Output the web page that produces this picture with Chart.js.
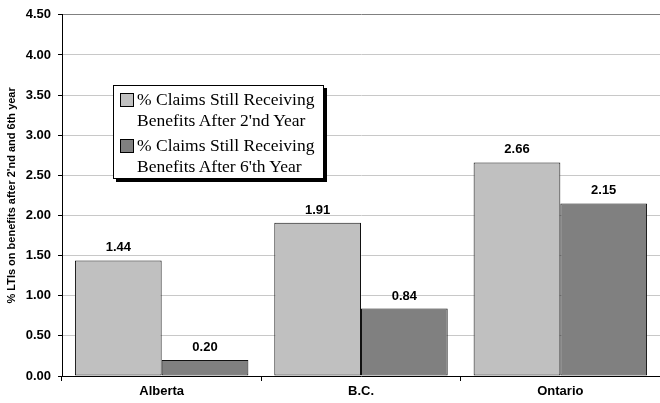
<!DOCTYPE html>
<html>
<head>
<meta charset="utf-8">
<script src="https://cdn.jsdelivr.net/npm/chart.js@4.4.1/dist/chart.umd.min.js"></script>
<style>
  html, body { margin: 0; padding: 0; background: #fff; }
  #wrap { position: relative; width: 660px; height: 403px; }
  #legend {
    position: absolute; left: 113px; top: 85px;
    background: #fff; border: 1px solid #000;
    box-shadow: 3px 3px 0 #000;
    font-family: "Liberation Serif", "Times New Roman", serif;
    font-size: 17.5px; line-height: 21px; color: #000;
    padding: 3px 2px 1px 6px;
  }
  .item { display: flex; align-items: flex-start; margin: 0; }
  .item + .item { margin-top: 4px; }
  .sw { width: 12px; height: 12px; border: 1px solid #000; margin: 4px 3px 0 0; flex: none; }
  .txt { width: 184px; }
</style>
</head>
<body>
<div id="wrap">
  <canvas id="c" width="660" height="403"></canvas>
  <div id="legend"></div>
</div>
<script>
// Provinces and the two claim-duration series
const categories = ['Alberta', 'B.C.', 'Ontario'];
const seriesNames = [
  "% Claims Still Receiving Benefits After 2'nd Year",
  "% Claims Still Receiving Benefits After 6'th Year"
];
const after2ndYear = [1.44, 1.91, 2.66];
const after6thYear = [0.20, 0.84, 2.15];
const seriesColors = ['#C0C0C0', '#808080'];
const yTitle = "% LTIs on benefits after 2'nd and 6th year";

const FONT = '"Liberation Sans", Arial, sans-serif';

// Value labels drawn above each bar
const valueLabels = {
  id: 'valueLabels',
  afterDatasetsDraw(chart) {
    const ctx = chart.ctx;
    ctx.save();
    ctx.font = 'bold 13px ' + FONT;
    ctx.fillStyle = '#000';
    ctx.textAlign = 'center';
    ctx.textBaseline = 'alphabetic';
    chart.data.datasets.forEach((ds, i) => {
      chart.getDatasetMeta(i).data.forEach((bar, j) => {
        ctx.fillText(ds.data[j].toFixed(2), bar.x, bar.y - 9);
      });
    });
    ctx.restore();
  }
};

const chart = new Chart(document.getElementById('c'), {
  type: 'bar',
  data: {
    labels: categories,
    datasets: [
      { label: seriesNames[0], data: after2ndYear, backgroundColor: seriesColors[0],
        borderColor: '#111', borderWidth: 1, borderSkipped: false },
      { label: seriesNames[1], data: after6thYear, backgroundColor: seriesColors[1],
        borderColor: '#111', borderWidth: 1, borderSkipped: false }
    ]
  },
  options: {
    responsive: false,
    animation: false,
    devicePixelRatio: 1,
    layout: { padding: { top: 14, right: 0, left: 0, bottom: 0 } },
    datasets: { bar: { categoryPercentage: 0.87, barPercentage: 1.0 } },
    plugins: { legend: { display: false }, tooltip: { enabled: false } },
    scales: {
      x: {
        grid: { drawOnChartArea: false, drawTicks: true, tickLength: 5, tickColor: '#000', offset: true },
        border: { color: '#000', width: 1 },
        ticks: { color: '#000', font: { family: FONT, size: 13, weight: 'bold' }, padding: 3 },
        afterFit(s) { s.height = 27; }
      },
      y: {
        min: 0, max: 4.5,
        ticks: {
          stepSize: 0.5, color: '#000', padding: 7,
          font: { family: FONT, size: 13, weight: 'bold' },
          callback: v => v.toFixed(2)
        },
        grid: {
          color: ctx => (ctx.tick && ctx.tick.value === 4.5) ? '#808080' : '#c8c8c8',
          tickColor: '#000', tickLength: 4
        },
        border: { color: '#000', width: 1 },
        title: {
          display: true, text: yTitle, color: '#000', padding: { top: 5, bottom: 0 },
          font: { family: FONT, size: 11, weight: 'bold' }
        },
        afterFit(s) { s.width = 62; }
      }
    }
  },
  plugins: [valueLabels]
});

// HTML legend built from the dataset names and colours
const legend = document.getElementById('legend');
chart.data.datasets.forEach(ds => {
  const item = document.createElement('div');
  item.className = 'item';
  const sw = document.createElement('div');
  sw.className = 'sw';
  sw.style.background = ds.backgroundColor;
  const txt = document.createElement('div');
  txt.className = 'txt';
  txt.textContent = ds.label;
  item.appendChild(sw);
  item.appendChild(txt);
  legend.appendChild(item);
});
</script>
</body>
</html>
